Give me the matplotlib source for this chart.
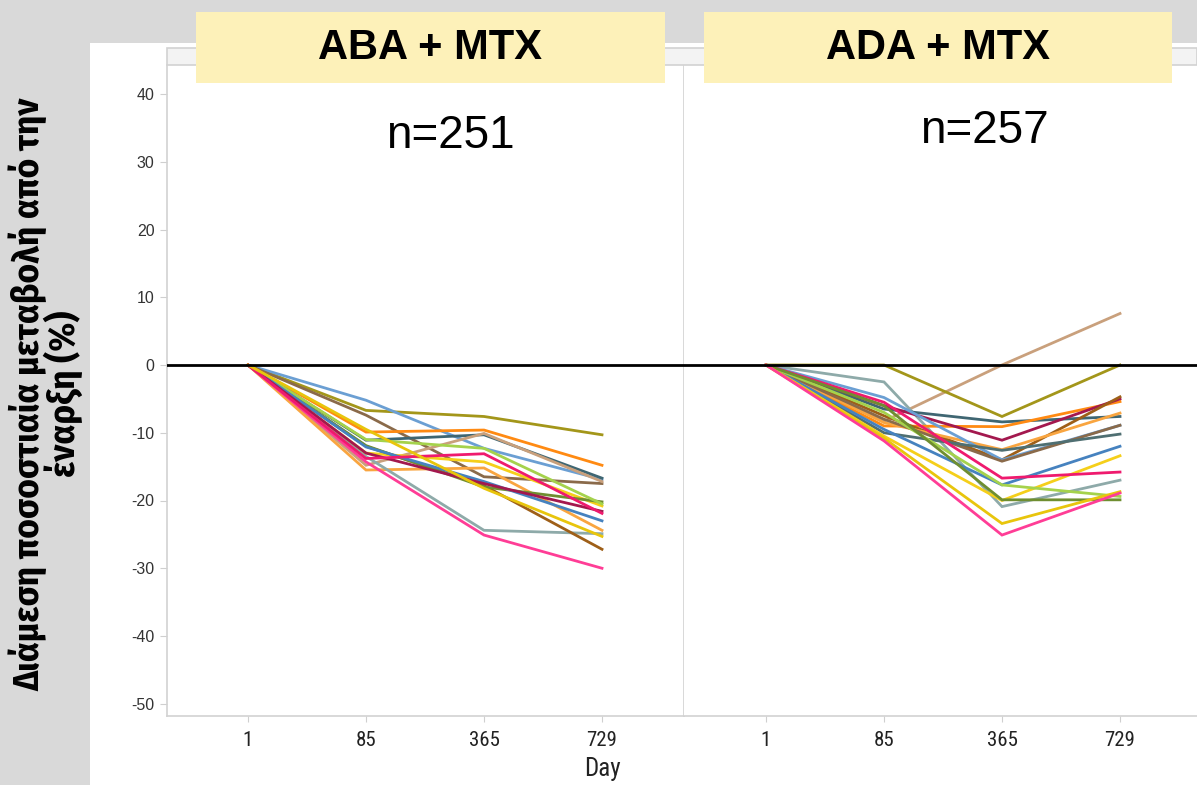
import matplotlib
matplotlib.use("Agg")
import matplotlib.pyplot as plt
from matplotlib.patches import Rectangle

W, H = 1197, 785
DPI = 100

days = ["1", "85", "365", "729"]

panel_titles = ["ABA + MTX", "ADA + MTX"]
panel_n = ["n=251", "n=257"]

# ABA + MTX series (median % change from baseline)
aba_blue_light = [0, -5.2, -12.3, -16.9]
aba_olive = [0, -6.7, -7.6, -10.3]
aba_brown_mid = [0, -7.4, -16.5, -17.5]
aba_orange = [0, -9.9, -9.6, -14.8]
aba_slate = [0, -11.1, -10.3, -16.7]
aba_tan = [0, -14.8, -10.1, -17.2]
aba_orange_light = [0, -15.5, -15.2, -24.4]
aba_grayteal = [0, -13.5, -24.4, -24.9]
aba_hotpink = [0, -14.3, -25.1, -30.0]
aba_pink = [0, -13.8, -13.1, -21.9]
aba_yellow = [0, -13.0, -14.3, -20.8]
aba_green = [0, -11.9, -18.0, -20.2]
aba_lightgreen = [0, -11.0, -12.3, -20.5]
aba_steelblue = [0, -12.1, -17.2, -23.0]
aba_maroon = [0, -13.0, -17.5, -21.6]
aba_gold = [0, -9.5, -18.2, -25.3]
aba_darkbrown = [0, -12.0, -17.8, -27.2]

# ADA + MTX series
ada_tan = [0, -8.3, 0.0, 7.6]
ada_olive = [0, 0.0, -7.6, 0.0]
ada_grayteal = [0, -2.5, -20.9, -17.0]
ada_slate = [0, -6.5, -8.4, -7.6]
ada_orange = [0, -9.0, -9.1, -5.4]
ada_maroon = [0, -6.0, -11.1, -5.0]
ada_darkbrown = [0, -7.5, -14.0, -4.7]
ada_orange_light = [0, -8.5, -12.5, -7.1]
ada_blue_light = [0, -4.8, -14.0, -8.9]
ada_brown_mid = [0, -8.0, -14.2, -8.9]
ada_slate2 = [0, -10.0, -12.6, -10.2]
ada_steelblue = [0, -9.5, -17.7, -12.0]
ada_yellow = [0, -10.5, -20.0, -13.4]
ada_pink = [0, -5.5, -16.7, -15.8]
ada_lightgreen = [0, -7.0, -17.7, -19.4]
ada_green = [0, -6.0, -19.9, -19.9]
ada_gold = [0, -10.8, -23.4, -18.7]
ada_hotpink = [0, -11.2, -25.1, -18.9]

y_ticks = [40, 30, 20, 10, 0, -10, -20, -30, -40, -50]

C = {
    "blue_light": "#6b9fd3", "olive": "#a3961a", "brown_mid": "#8a6a4a",
    "orange": "#ff8a12", "slate": "#3f6672", "tan": "#c9a07c",
    "orange_light": "#f9a540", "grayteal": "#8eaaa9", "hotpink": "#ff3d96",
    "pink": "#ef1a6e", "yellow": "#f5cf1a", "green": "#6f8e30",
    "lightgreen": "#a5d24c", "steelblue": "#4682bf", "maroon": "#a3184e",
    "gold": "#e8c50c", "darkbrown": "#9e5f18", "slate2": "#4f6f72",
}

aba_series = [
    (aba_olive, "olive"), (aba_blue_light, "blue_light"), (aba_brown_mid, "brown_mid"),
    (aba_orange, "orange"), (aba_slate, "slate"), (aba_tan, "tan"),
    (aba_orange_light, "orange_light"), (aba_grayteal, "grayteal"),
    (aba_hotpink, "hotpink"), (aba_darkbrown, "darkbrown"), (aba_yellow, "yellow"),
    (aba_green, "green"), (aba_lightgreen, "lightgreen"), (aba_steelblue, "steelblue"),
    (aba_maroon, "maroon"), (aba_pink, "pink"), (aba_gold, "gold"),
]
ada_series = [
    (ada_tan, "tan"), (ada_olive, "olive"), (ada_grayteal, "grayteal"),
    (ada_slate, "slate"), (ada_orange, "orange"), (ada_maroon, "maroon"),
    (ada_darkbrown, "darkbrown"), (ada_orange_light, "orange_light"),
    (ada_blue_light, "blue_light"), (ada_brown_mid, "brown_mid"),
    (ada_slate2, "slate2"), (ada_steelblue, "steelblue"), (ada_yellow, "yellow"),
    (ada_pink, "pink"), (ada_lightgreen, "lightgreen"), (ada_green, "green"),
    (ada_gold, "gold"), (ada_hotpink, "hotpink"),
]

plt.rcParams["font.family"] = ["Liberation Sans", "DejaVu Sans"]
NARROW = ["Roboto Condensed", "DejaVu Sans"]
YLAB = ["Fira Sans Condensed", "Open Sans Condensed", "DejaVu Sans"]

fig = plt.figure(figsize=(W / DPI, H / DPI), dpi=DPI)
fig.patch.set_facecolor("#d9d9d9")


def fx(px):
    return px / W


def fy(py):
    return 1 - py / H


# white panel
fig.patches.append(Rectangle((fx(90), 0), 1 - fx(90), fy(43), transform=fig.transFigure,
                             facecolor="white", edgecolor="none", zorder=-10))
# header strip
fig.patches.append(Rectangle((fx(167), fy(65)), 1 - fx(167), fy(48) - fy(65),
                             transform=fig.transFigure, facecolor="#f3f3f3",
                             edgecolor="#d2d2d2", linewidth=1.2, zorder=3))

px_per_unit = 6.775
y0_px = 365
top_px, bot_px = 65, 716
ylim = ((y0_px - bot_px) / px_per_unit, (y0_px - top_px) / px_per_unit)
cat_sp = 118.0

panels = [
    dict(left=167, right=684, first=248, series=aba_series),
    dict(left=684, right=1197, first=766, series=ada_series),
]

axes = []
for i, p in enumerate(panels):
    ax = fig.add_axes([fx(p["left"]), fy(bot_px), fx(p["right"] - p["left"]),
                       fy(top_px) - fy(bot_px)])
    ax.set_zorder(1)
    ax.set_facecolor("white")
    ax.set_xlim((p["left"] - p["first"]) / cat_sp, (p["right"] - p["first"]) / cat_sp)
    ax.set_ylim(*ylim)
    xs = list(range(len(days)))
    for vals, cname in p["series"]:
        ax.plot(xs, vals, color=C[cname], lw=2.0, solid_joinstyle="miter", zorder=3)
    ax.axhline(0, color="black", lw=2.0, zorder=4)
    ax.set_xticks(xs)
    ax.set_xticklabels(days, family=NARROW, fontsize=15, color="#222222")
    ax.tick_params(axis="x", length=4, color="#cfcfcf", pad=7)
    ax.spines["top"].set_visible(False)
    ax.spines["bottom"].set_color("#d2d2d2")
    ax.spines["bottom"].set_linewidth(1.2)
    if i == 0:
        ax.spines["left"].set_color("#d2d2d2")
        ax.spines["left"].set_linewidth(1.2)
        ax.spines["right"].set_color("#d2d2d2")
        ax.spines["right"].set_linewidth(1.2)
        ax.set_yticks(y_ticks)
        ax.set_yticklabels([str(t) for t in y_ticks], fontsize=11.5, color="#333333")
        ax.tick_params(axis="y", length=5, color="#cfcfcf", pad=4)
    else:
        ax.spines["left"].set_visible(False)
        ax.spines["right"].set_visible(False)
        ax.set_yticks([])
    axes.append(ax)

# title boxes
boxes = [(196, 665), (704, 1172)]
for (x0, x1), title in zip(boxes, panel_titles):
    fig.patches.append(Rectangle((fx(x0), fy(83)), fx(x1 - x0), fy(12) - fy(83),
                                 transform=fig.transFigure, facecolor="#fdf1b9",
                                 edgecolor="none", zorder=5))
    fig.text(fx((x0 + x1) / 2), fy(48), title, ha="center", va="center",
             fontsize=30, fontweight="bold", color="black", zorder=6)

fig.text(fx(450), fy(136), panel_n[0], ha="center", va="center", fontsize=33, color="black",
         zorder=6)
fig.text(fx(984), fy(131), panel_n[1], ha="center", va="center", fontsize=33, color="black",
         zorder=6)

fig.text(fx(602), fy(769), "Day", ha="center", va="center",
         family=NARROW, fontsize=18, color="#222222")

fig.text(fx(46), fy(394), "Διάμεση ποσοστιαία μεταβολή από την\nέναρξη (%)",
         rotation=90, ha="center", va="center", multialignment="center",
         family=YLAB, fontweight="bold", fontsize=26.5,
         linespacing=0.88, color="black")

fig.savefig("out.png", dpi=DPI, facecolor=fig.get_facecolor())
